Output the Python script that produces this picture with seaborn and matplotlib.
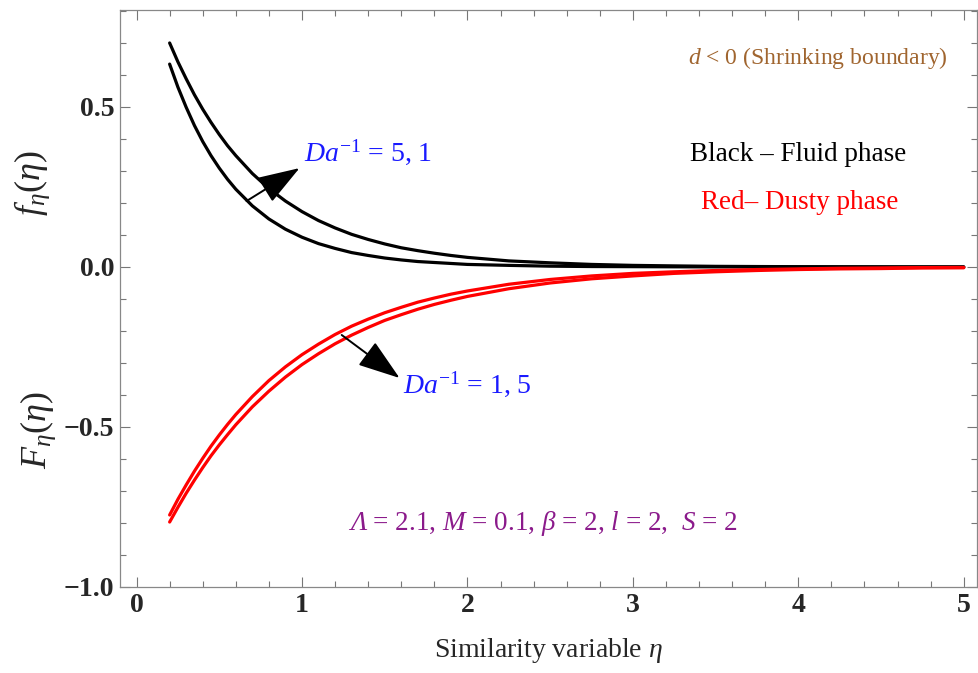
import numpy as np
import pandas as pd
import matplotlib
matplotlib.use("Agg")
import matplotlib.pyplot as plt
import matplotlib.transforms as mtransforms
import seaborn as sns
from matplotlib.ticker import MultipleLocator

# ---- data ----
eta = [0.2, 0.25, 0.3, 0.35, 0.4, 0.45, 0.5, 0.55, 0.6, 0.7, 0.8, 0.9, 1.0, 1.1,
       1.2, 1.3, 1.4, 1.5, 1.6, 1.7, 1.8, 1.9, 2.0, 2.25, 2.5, 2.75, 3.0, 3.25,
       3.5, 3.75, 4.0, 4.25, 4.5, 4.75, 5.0]
f_da1 = [0.700, 0.641, 0.588, 0.538, 0.493, 0.452, 0.414, 0.379, 0.348, 0.292,
         0.245, 0.206, 0.173, 0.145, 0.122, 0.102, 0.086, 0.072, 0.060, 0.051,
         0.043, 0.036, 0.030, 0.019, 0.013, 0.008, 0.005, 0.0034, 0.002, 0.0014,
         0.0009, 0.0006, 0.0004, 0.0002, 0.0001]
f_da5 = [0.634, 0.562, 0.499, 0.442, 0.392, 0.348, 0.309, 0.274, 0.243, 0.191,
         0.150, 0.118, 0.093, 0.073, 0.058, 0.045, 0.036, 0.028, 0.022, 0.017,
         0.014, 0.011, 0.008, 0.005, 0.0025, 0.0014, 0.001, 0.0005, 0.0003,
         0.0002, 0.0001, 0.0, 0.0, 0.0, 0.0]
F_da1 = [-0.775, -0.726, -0.681, -0.638, -0.598, -0.560, -0.525, -0.492, -0.461,
         -0.405, -0.355, -0.312, -0.274, -0.241, -0.211, -0.185, -0.163, -0.143,
         -0.126, -0.110, -0.097, -0.085, -0.075, -0.054, -0.039, -0.028, -0.020,
         -0.015, -0.011, -0.008, -0.006, -0.004, -0.003, -0.002, -0.0015]
F_da5 = [-0.797, -0.751, -0.707, -0.666, -0.627, -0.590, -0.556, -0.524, -0.493,
         -0.437, -0.388, -0.344, -0.305, -0.271, -0.240, -0.213, -0.189, -0.167,
         -0.149, -0.132, -0.117, -0.104, -0.092, -0.068, -0.050, -0.037, -0.028,
         -0.020, -0.015, -0.011, -0.008, -0.006, -0.005, -0.003, -0.0025]
x_ticks = [0, 1, 2, 3, 4, 5]
y_ticks = [-1.0, -0.5, 0.0, 0.5]
y_tick_labels = ["\u22121.0", "\u22120.5", "0.0", "0.5"]

# ---- style ----
sns.set_theme(style="white")
plt.rcParams["font.family"] = ["Liberation Serif", "DejaVu Serif"]
plt.rcParams["mathtext.fontset"] = "custom"
plt.rcParams["mathtext.rm"] = "Liberation Serif"
plt.rcParams["mathtext.it"] = "Liberation Serif:italic"
plt.rcParams["mathtext.bf"] = "Liberation Serif:bold"

fig = plt.figure(figsize=(9.79, 6.73), dpi=100)
ax = fig.add_axes([120 / 979, 86 / 673, 857 / 979, 577 / 673])

n = len(eta)
df = pd.DataFrame({"eta": eta * 4,
                   "val": f_da1 + f_da5 + F_da1 + F_da5,
                   "curve": ["f1"] * n + ["f5"] * n + ["F1"] * n + ["F5"] * n})
palette = {"f1": "black", "f5": "black", "F1": "#ff0000", "F5": "#ff0000"}
sns.lineplot(data=df, x="eta", y="val", hue="curve", palette=palette,
             hue_order=["f1", "f5", "F1", "F5"], linewidth=2.3, legend=False,
             ax=ax, sort=False, estimator=None)

ax.set_xlim(-0.1, 5.08)
ax.set_ylim(-1.0, 0.803)
ax.set_xticks(x_ticks)
ax.set_xticklabels([str(t) for t in x_ticks])
ax.set_yticks(y_ticks)
ax.set_yticklabels(y_tick_labels)
ax.xaxis.set_minor_locator(MultipleLocator(0.2))
ax.yaxis.set_minor_locator(MultipleLocator(0.1))
ax.tick_params(which="both", direction="in", top=True, right=True,
               bottom=True, left=True, color="#777777", width=0.8)
ax.tick_params(which="major", length=7, labelsize=20, pad=4)
ax.tick_params(which="minor", length=4)
for lab in ax.get_xticklabels() + ax.get_yticklabels():
    lab.set_fontweight("bold")
for sp in ax.spines.values():
    sp.set_color("#888888")
    sp.set_linewidth(0.9)
ax.set_xlabel("Similarity variable $\\eta$", fontsize=20, labelpad=13)
ax.set_ylabel("")

fig.text(32 / 979, 1 - 183 / 673, "$f_\\eta(\\eta)$", rotation=90, fontsize=26,
         ha="center", va="center")
fig.text(38 / 979, 1 - 430 / 673, "$F_\\eta(\\eta)$", rotation=90, fontsize=26,
         ha="center", va="center")

# arrows
arrow_style = "-|>,head_length=2.2,head_width=0.75"
ax.annotate("", xy=(0.985, 0.309), xytext=(0.665, 0.206),
            arrowprops=dict(arrowstyle=arrow_style, color="black", lw=1.4,
                            shrinkA=0, shrinkB=0))
ax.annotate("", xy=(1.59, -0.347), xytext=(1.24, -0.2125),
            arrowprops=dict(arrowstyle=arrow_style, color="black", lw=1.4,
                            shrinkA=0, shrinkB=0))

ax.text(1.01, 0.36, "$Da^{-1}$ = 5, 1", color="#1a1aff", fontsize=20,
        ha="left", va="center")
ax.text(1.61, -0.365, "$Da^{-1}$ = 1, 5", color="#1a1aff", fontsize=20,
        ha="left", va="center")
ax.text(4.12, 0.653, "$d$ < 0 (Shrinking boundary)", color="#a0652f",
        fontsize=17, ha="center", va="center")
ax.text(4.0, 0.35, "Black \u2013 Fluid phase", color="black", fontsize=19.5,
        ha="center", va="center")
ax.text(4.01, 0.203, "Red\u2013 Dusty phase", color="#ff0000", fontsize=19.5,
        ha="center", va="center")

param_color = "#8b1a8b"
base_y = -0.822
t_lam = ax.text(1.29, base_y, "\u039b", color=param_color, fontsize=19.5,
                fontstyle="italic", ha="left", va="baseline")
fig.canvas.draw()
w_px = t_lam.get_window_extent(fig.canvas.get_renderer()).width
shifted = mtransforms.offset_copy(ax.transData, fig=fig, x=w_px * 72 / fig.dpi,
                                  y=0, units="points")
ax.text(1.29, base_y, " = 2.1, $M$ = 0.1, $\u03b2$ = 2, $l$ = 2,  $S$ = 2",
        color=param_color, fontsize=19.5, ha="left", va="baseline",
        transform=shifted)

fig.savefig("out.png", dpi=100)
